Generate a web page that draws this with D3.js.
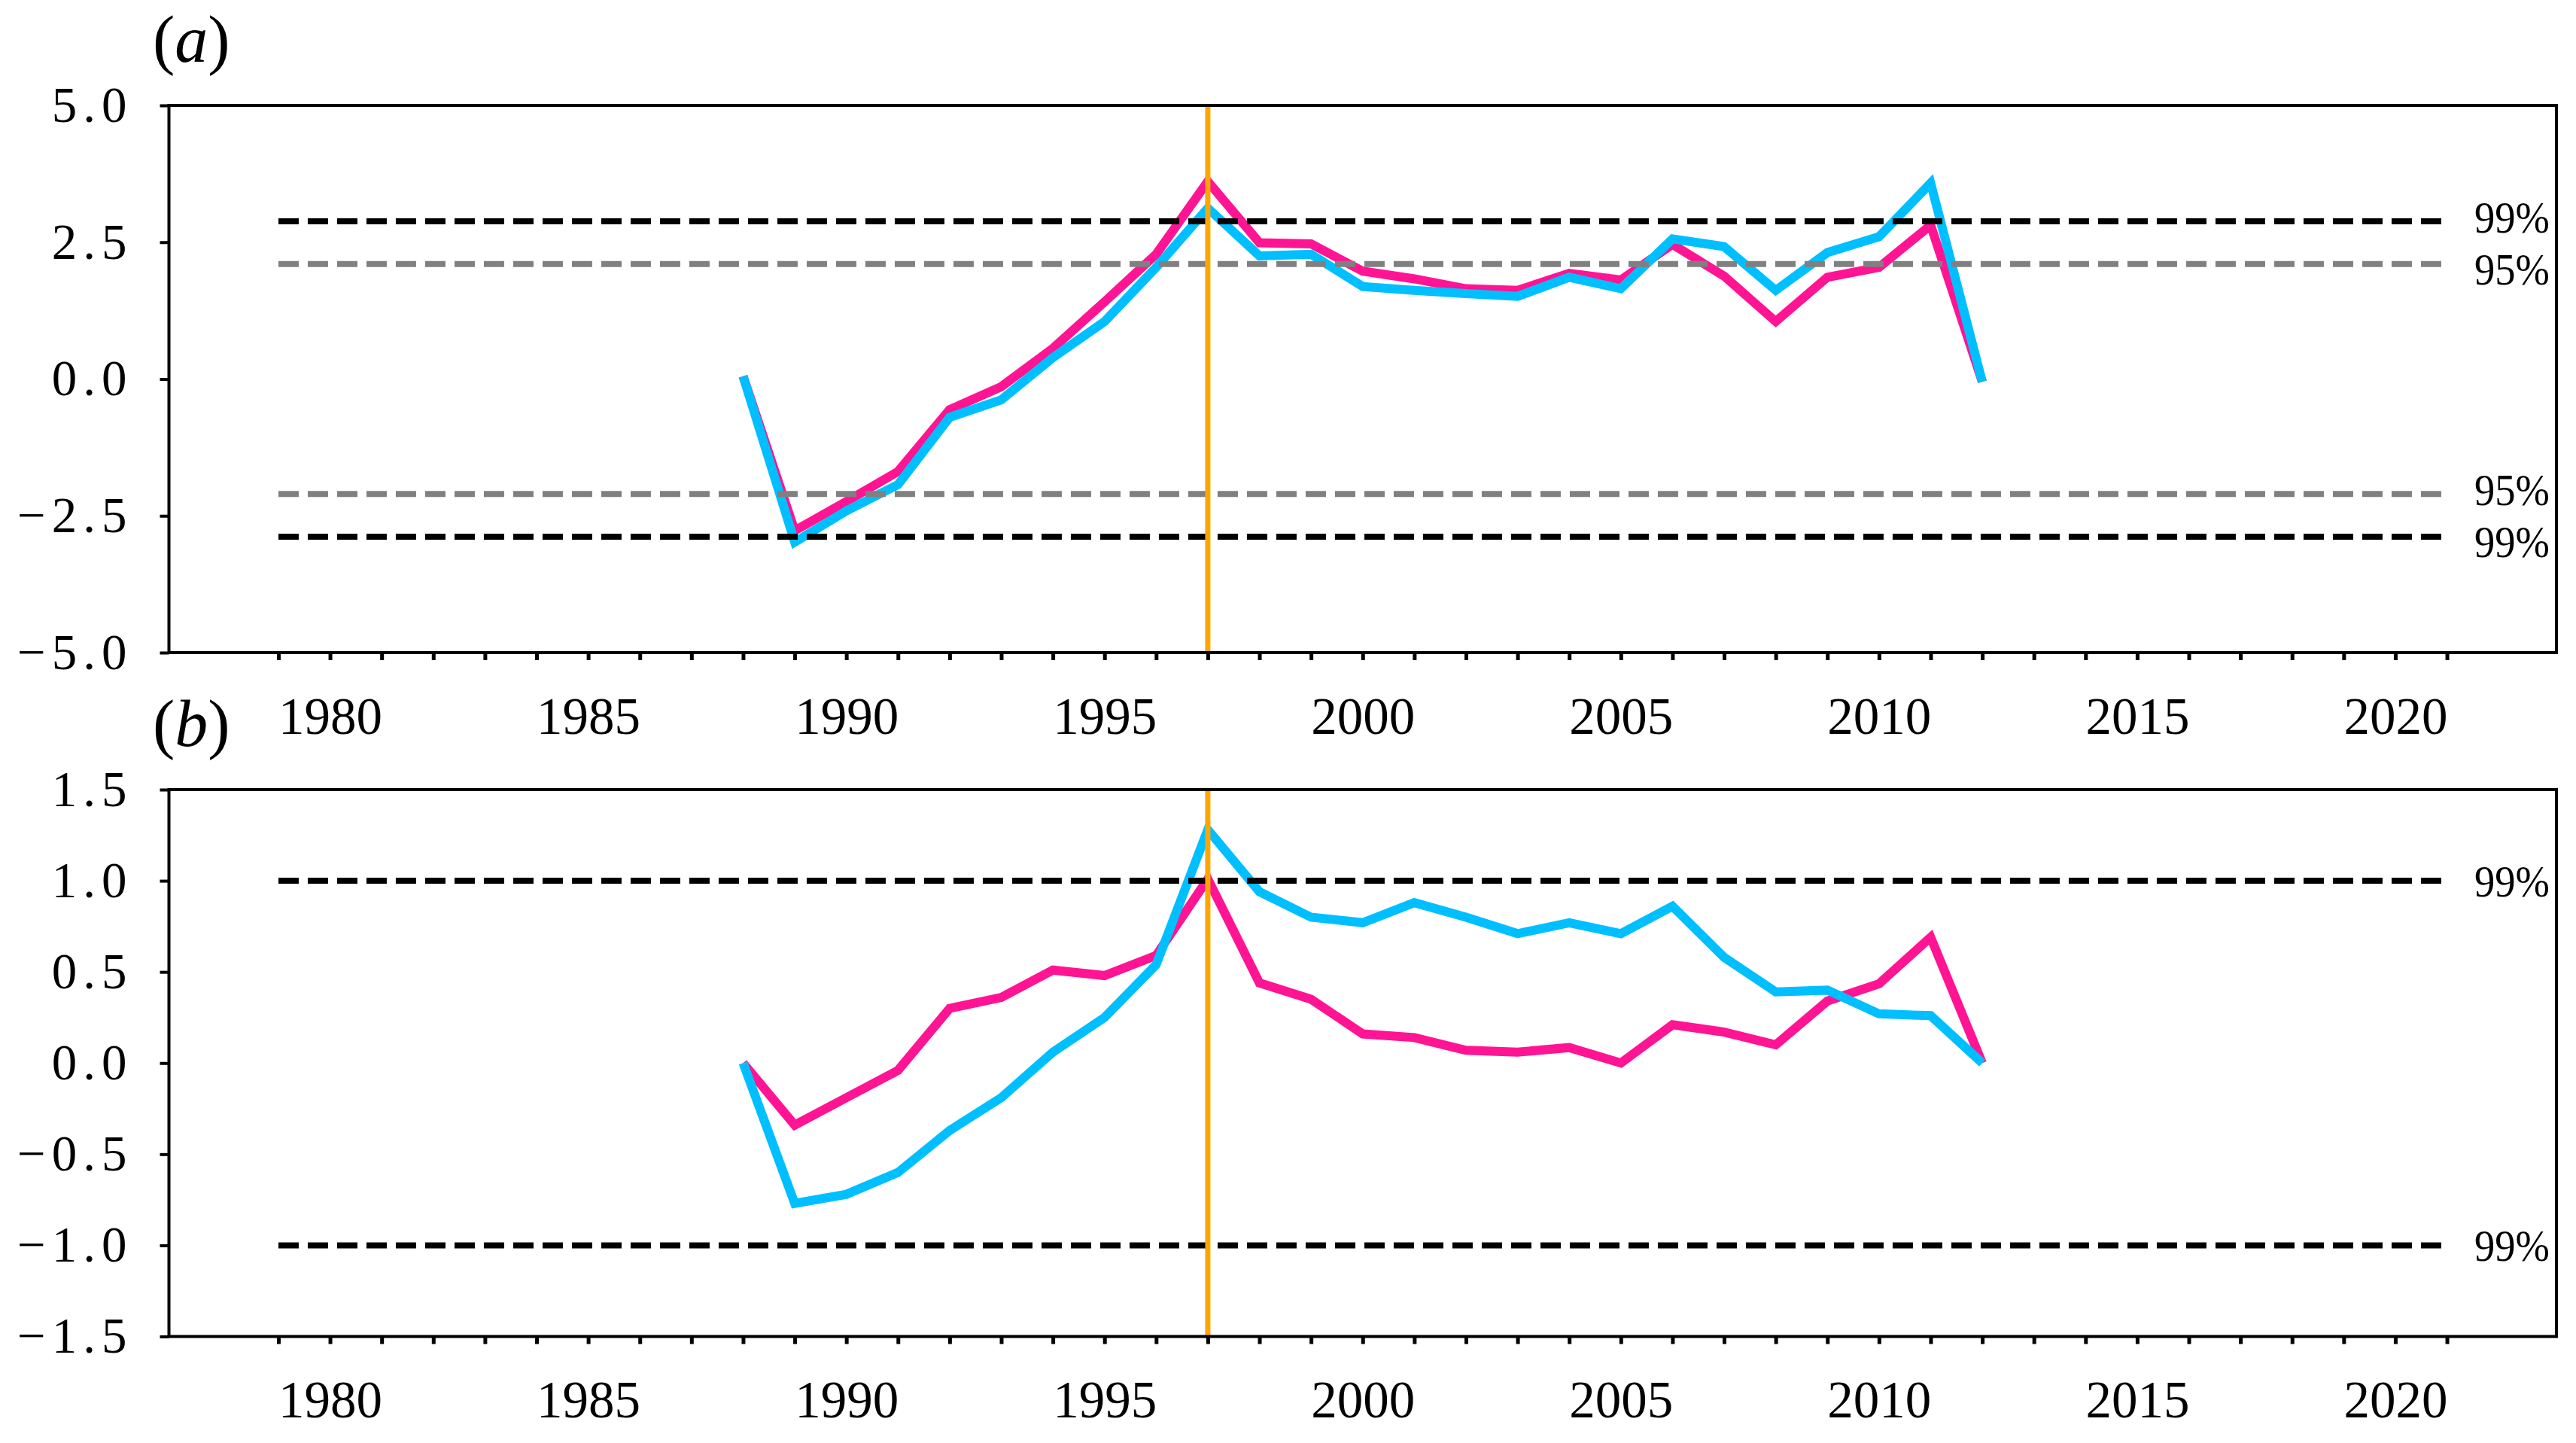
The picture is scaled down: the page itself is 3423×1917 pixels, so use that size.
<!DOCTYPE html>
<html>
<head>
<meta charset="utf-8">
<script src="https://cdn.jsdelivr.net/npm/d3@7"></script>
<style>
    body { margin: 0; background: #fff; }
    svg { display: block; }
</style>
</head>
<body>
<div class="chart"></div>
<script>
// years of the series
var years = [1988, 1989, 1990, 1991, 1992, 1993, 1994, 1995, 1996, 1997, 1998, 1999, 2000,
             2001, 2002, 2003, 2004, 2005, 2006, 2007, 2008, 2009, 2010, 2011, 2012];

// panel (a) series
var pinkA = [0.05, -2.77, -2.24, -1.69, -0.56, -0.14, 0.56, 1.41, 2.28, 3.61, 2.49, 2.47, 1.97,
             1.83, 1.65, 1.62, 1.93, 1.81, 2.46, 1.88, 1.05, 1.86, 2.04, 2.81, -0.05];
var cyanA = [0.05, -2.98, -2.41, -1.93, -0.70, -0.38, 0.39, 1.05, 2.04, 3.12, 2.25, 2.28, 1.69,
             1.62, 1.56, 1.51, 1.86, 1.65, 2.56, 2.42, 1.62, 2.31, 2.60, 3.58, -0.05];

// panel (b) series
var pinkB = [0, -0.34, -0.19, -0.04, 0.30, 0.36, 0.51, 0.48, 0.59, 1.01, 0.44, 0.35, 0.16,
             0.14, 0.07, 0.06, 0.085, 0.0, 0.21, 0.17, 0.10, 0.34, 0.435, 0.69, 0];
var cyanB = [0, -0.77, -0.72, -0.60, -0.37, -0.19, 0.06, 0.25, 0.54, 1.28, 0.94, 0.80, 0.77,
             0.88, 0.80, 0.71, 0.77, 0.71, 0.86, 0.58, 0.39, 0.40, 0.27, 0.26, 0];

// significance levels
var levelsA = [2.88, 2.10, -2.10, -2.88];
var levelLabelsA = ["99%", "95%", "95%", "99%"];
var levelsB = [1.0, -1.0];
var levelLabelsB = ["99%", "99%"];

// x ticks and labels
var minorYears = [1979, 1980, 1981, 1982, 1983, 1984, 1985, 1986, 1987, 1988, 1989, 1990, 1991,
                  1992, 1993, 1994, 1995, 1996, 1997, 1998, 1999, 2000, 2001, 2002, 2003, 2004,
                  2005, 2006, 2007, 2008, 2009, 2010, 2011, 2012, 2013, 2014, 2015, 2016, 2017,
                  2018, 2019, 2020, 2021];
var labelYears = [1980, 1985, 1990, 1995, 2000, 2005, 2010, 2015, 2020];
var yTicksA = [-5, -2.5, 0, 2.5, 5];
var yTicksB = [-1.5, -1, -0.5, 0, 0.5, 1, 1.5];
var breakYear = 1997;

//////// canvas
var width = 3423;
var height = 1917;
var left = 224.5;
var right = 3397;

var svg = d3.select(".chart")
    .append("svg")
    .attr("width", width)
    .attr("height", height);

var x = d3.scaleLinear()
    .domain([1976.88, 2023.12])
    .range([left, right]);

function drawPanel(letter, top, bottom, yDomain, yTicks, pink, cyan, levels, levelLabels) {
    var y = d3.scaleLinear()
        .domain(yDomain)
        .range([bottom, top]);

    var g = svg.append("g");

    // y axis ticks and labels
    var yAxis = g.append("g")
        .attr("transform", "translate(" + left + ",0)")
        .call(d3.axisLeft(y).tickValues(yTicks).tickSize(12).tickPadding(36).tickFormat(d3.format(".1f")));
    yAxis.select(".domain").remove();
    yAxis.selectAll("line").attr("stroke", "#000").attr("stroke-width", 4);
    yAxis.selectAll("text")
        .attr("font-family", "'Liberation Serif', 'DejaVu Serif', serif")
        .attr("font-size", "67px")
        .attr("letter-spacing", "8px")
        .attr("fill", "#000");

    // x minor ticks
    var xTicks = g.append("g")
        .attr("transform", "translate(0," + bottom + ")")
        .call(d3.axisBottom(x).tickValues(minorYears).tickSize(10).tickFormat(""));
    xTicks.select(".domain").remove();
    xTicks.selectAll("line").attr("stroke", "#000").attr("stroke-width", 5);

    // x labels
    var xLabels = g.append("g")
        .attr("transform", "translate(0," + bottom + ")")
        .call(d3.axisBottom(x).tickValues(labelYears).tickSize(0).tickPadding(59).tickFormat(d3.format("d")));
    xLabels.select(".domain").remove();
    xLabels.selectAll("text")
        .attr("font-family", "'Liberation Serif', 'Times New Roman', serif")
        .attr("font-size", "69px")
        .attr("fill", "#000");

    // series lines
    var line = d3.line()
        .x(function(d, i) { return x(years[i]); })
        .y(function(d) { return y(d); });

    g.append("path")
        .attr("d", line(pink))
        .attr("fill", "none")
        .attr("stroke", "#ff1493")
        .attr("stroke-width", 12)
        .attr("stroke-linejoin", "miter");

    g.append("path")
        .attr("d", line(cyan))
        .attr("fill", "none")
        .attr("stroke", "#00bfff")
        .attr("stroke-width", 12)
        .attr("stroke-linejoin", "miter");

    // significance lines
    g.selectAll(".level")
        .data(levels)
        .enter()
        .append("line")
        .attr("x1", x(1979))
        .attr("x2", x(2021))
        .attr("y1", function(d) { return y(d); })
        .attr("y2", function(d) { return y(d); })
        .attr("stroke", function(d, i) { return levelLabels[i] === "99%" ? "#000" : "#808080"; })
        .attr("stroke-width", 8)
        .attr("stroke-dasharray", "27,12");

    // labels pushed slightly apart where two levels sit close together
    g.selectAll(".levelText")
        .data(levels)
        .enter()
        .append("text")
        .attr("x", 3288)
        .attr("y", function(d, i) {
            var shift = 0;
            if (levels.length === 4) shift = (i === 0 || i === 2) ? -6 : 6;
            return y(d) + shift;
        })
        .attr("dy", "0.35em")
        .attr("font-family", "'Liberation Serif', 'Times New Roman', serif")
        .attr("font-size", "60px")
        .attr("textLength", 100)
        .attr("lengthAdjust", "spacingAndGlyphs")
        .attr("fill", "#000")
        .text(function(d, i) { return levelLabels[i]; });

    // break year
    g.append("line")
        .attr("x1", x(breakYear))
        .attr("x2", x(breakYear))
        .attr("y1", top)
        .attr("y2", bottom)
        .attr("stroke", "#ffa500")
        .attr("stroke-width", 7);

    // frame
    g.append("rect")
        .attr("x", left)
        .attr("y", top)
        .attr("width", right - left)
        .attr("height", bottom - top)
        .attr("fill", "none")
        .attr("stroke", "#000")
        .attr("stroke-width", 4);

    // panel letter
    var lbl = g.append("text")
        .attr("x", 203)
        .attr("y", top - 58)
        .attr("font-family", "'Liberation Serif', 'Times New Roman', serif")
        .attr("font-size", "88px")
        .attr("fill", "#000");
    lbl.append("tspan").text("(");
    lbl.append("tspan").attr("font-style", "italic").text(letter);
    lbl.append("tspan").text(")");
}

drawPanel("a", 140, 867, [-5, 5], yTicksA, pinkA, cyanA, levelsA, levelLabelsA);
drawPanel("b", 1049, 1775.5, [-1.5, 1.5], yTicksB, pinkB, cyanB, levelsB, levelLabelsB);
</script>
</body>
</html>
